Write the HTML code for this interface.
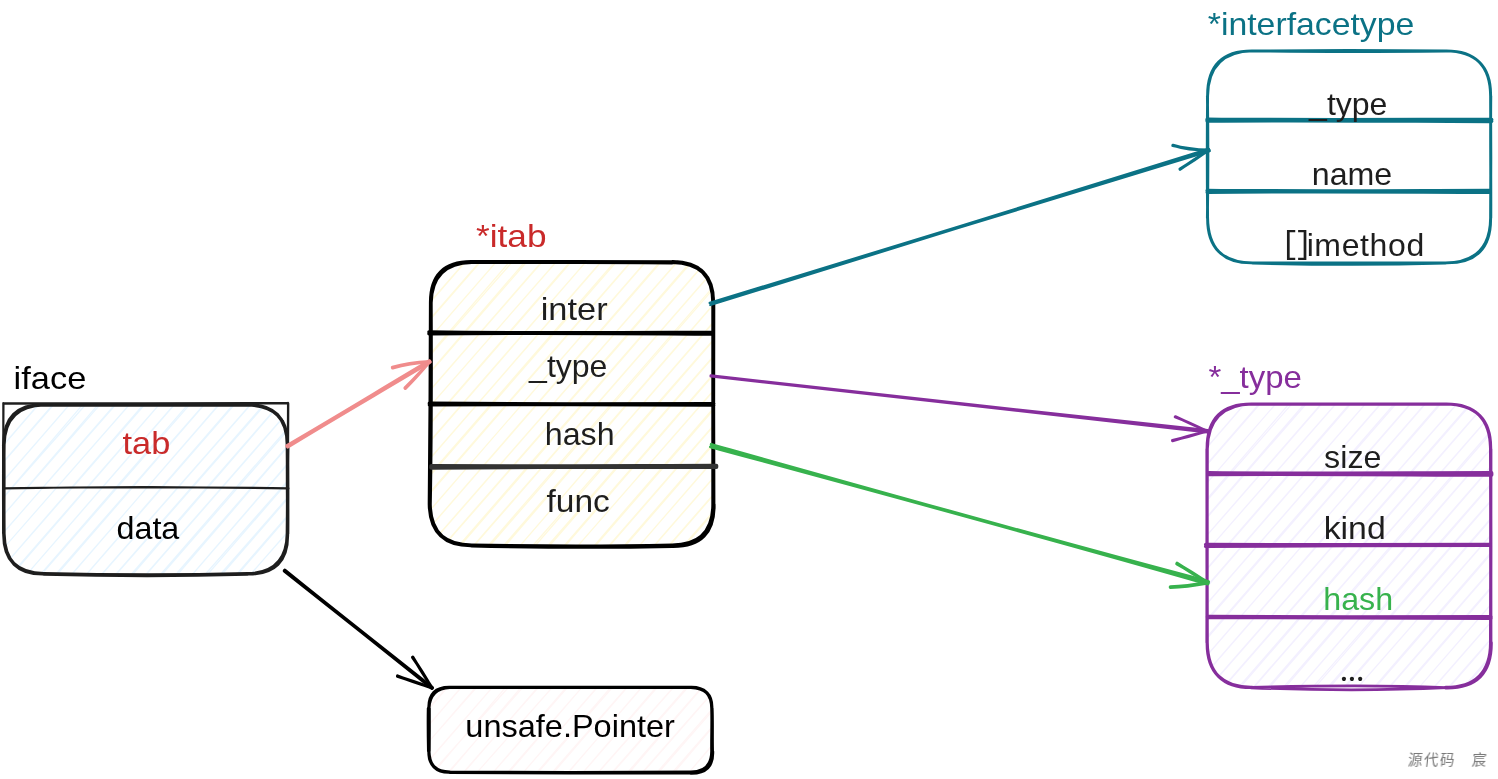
<!DOCTYPE html>
<html lang="zh">
<head>
<meta charset="utf-8">
<title>iface</title>
<style>
html,body{margin:0;padding:0;background:#fff;}
body{width:1498px;height:779px;overflow:hidden;position:relative;}
svg{display:block;position:absolute;left:0;top:0;will-change:transform;}
svg text{font-family:"Liberation Sans", "Noto Sans CJK SC", sans-serif;}
.wm{will-change:transform;position:absolute;left:1407px;top:750px;font:14.5px/20px "Liberation Sans", "Noto Sans CJK SC", sans-serif;letter-spacing:1.5px;color:#787878;white-space:pre;transform:skewX(-6deg);transform-origin:0 100%;}
</style>
</head>
<body>
<svg width="1498" height="779" viewBox="0 0 1498 779">
<defs>
<clipPath id="c1"><path d="M43.9 404.8L247.4 404.8Q287.4 404.8 287.4 444.8L287.4 533.8Q287.4 573.8 247.4 573.8L43.9 573.8Q3.9 573.8 3.9 533.8L3.9 444.8Q3.9 404.8 43.9 404.8Z"/></clipPath>
<clipPath id="c2"><path d="M471.8 262L672.2 262Q713.2 262 713.2 303L713.2 504.3Q713.2 545.3 672.2 545.3L471.8 545.3Q430.8 545.3 430.8 504.3L430.8 303Q430.8 262 471.8 262Z"/></clipPath>
<clipPath id="c3"><path d="M1252.2 404L1445.6 404Q1490.6 404 1490.6 449L1490.6 642.4Q1490.6 687.4 1445.6 687.4L1252.2 687.4Q1207.2 687.4 1207.2 642.4L1207.2 449Q1207.2 404 1252.2 404Z"/></clipPath>
<clipPath id="c4"><path d="M449.9 687.3L690.8 687.3Q711.8 687.3 711.8 708.3L711.8 751.2Q711.8 772.2 690.8 772.2L449.9 772.2Q428.9 772.2 428.9 751.2L428.9 708.3Q428.9 687.3 449.9 687.3Z"/></clipPath>
</defs>
<g>
<path clip-path="url(#c1)" d="M-167.7 573.3L-20.1 405.6M-167.9 574.1L-21.5 404.3M-153.3 574.1L-6.5 405.6M-153.7 573.2L-6.7 405.3M-138.1 573.7L8.7 405M-138.1 573.3L8.9 404.4M-123.6 574.4L24.4 405.1M-122.2 573.6L23.8 404.7M-108.1 574.1L38.1 404.7M-107.8 573.5L38.2 405.2M-93.8 573.9L53.4 404M-93.5 573L53.4 405.1M-77.5 573.6L69.3 404.8M-77.9 574.5L68.7 405.5M-62.5 574.1L83.1 404.1M-63.7 573.5L84.8 405.5M-47.3 573.1L99.4 405.3M-47.3 574.3L98.4 404.2M-32.4 574.2L114.7 404.7M-32.2 573.2L114.9 405.5M-18.2 573L129.1 405.1M-18.1 573L128.6 405.4M-3.6 574.6L143.6 404.3M-3.6 574.7L144.8 404.5M11.4 574.1L159.7 403.9M12.4 574.4L159 404.9M27.7 573.3L173.6 405.1M27.2 573.9L173.7 405.6M41.7 574.1L189.7 404.6M41.3 573.3L188.2 404.2M56.4 573.5L203.8 404.7M57.4 574.1L204.4 404.6M72.4 573.9L218.4 404.9M71.8 574.1L219.5 404.3M87 573.7L233.7 404M86.3 574.7L234.5 404.7M102.4 573.4L249.4 405.6M102.6 573.7L249.9 405.6M116.3 573.6L263.9 404.4M117.3 573.2L264.5 405.4M131.3 574.1L278.6 405M132.5 574.7L279.6 404.5M147.5 573.2L294.4 404.7M146.7 573.3L293.5 405.3M161.4 573.3L308.5 404.2M162.5 574L309.3 405.5M177 573L323.5 404.8M177.5 574.6L324.1 404.3M192.3 574.6L338.7 405.6M192.8 573.9L339 404.1M206.4 573L354.2 405.2M208 574L354.9 404.6M221.5 573L368.6 404.9M223 573.4L368.6 405.2M236.9 573.9L383.4 405.4M237.9 574.3L384.8 404.5M251.3 573.4L399.7 404.7M251.6 573.2L398.4 404.7M267.9 574.5L414.5 405.3M266.6 574.3L413.5 404.8M281.3 574.5L428.4 405M282.4 574.1L429.4 404.6" fill="none" stroke="#e7f5ff" stroke-width="1.25"/>
<path d="M43.9 404.8C111.1 405 180.2 404.8 247.4 404.8M43.9 405.1C111.1 405.2 180.2 404.9 247.4 405.1M43.9 573.8C111.1 575.4 180.2 575.6 247.4 573.8M43.9 574.1C111.1 575.9 180.2 576 247.4 574.1M3.9 444.8C3.6 474.2 3.7 504.4 3.9 533.8M3.7 444.8C4.1 474.2 3.6 504.4 3.8 533.8M287.4 444.8C287.7 474.2 287.8 504.4 287.4 533.8M287.7 444.8C287.2 474.2 287.9 504.4 287.6 533.8M3.9 444.8Q3.5 404.4 43.9 404.8M3.9 444.8Q4.6 405.5 43.9 404.8M247.4 404.8Q287 404.4 287.4 444.8M247.4 404.8Q288.1 405.5 287.4 444.8M287.4 533.8Q287 573.4 247.4 573.8M287.4 533.8Q288.1 574.5 247.4 573.8M43.9 573.8Q3.5 573.4 3.9 533.8M43.9 573.8Q4.6 574.5 3.9 533.8" fill="none" stroke="#1e1e1e" stroke-width="3.5" stroke-linecap="round" stroke-linejoin="round"/>
<path d="M3.4 403.2C97.3 403.4 194.1 403.1 288 403.1M3.2 403.6C97.2 403.3 194.2 403.8 288.2 403.4M288 402.8C287.8 431 287.8 460.2 288 488.4M288.3 403.4C288.3 431.3 287.9 460.1 287.8 488M3.4 488.4C97.4 486.8 194.2 487 288.2 488.4M3.2 488.4C97.3 487.1 194.3 486.8 288.4 488.4M3.3 403C3.5 431.2 3.1 460.4 3.3 488.6M3.5 403.4C3.2 431.4 3.3 460.2 3.1 488.2" fill="none" stroke="#1e1e1e" stroke-width="2.1" stroke-linecap="round" stroke-linejoin="round"/>
<path clip-path="url(#c2)" d="M159.7 544.8L406.7 262.8M159.5 545.6L405.3 261.5M174.2 545.6L420.3 262.8M173.8 544.7L420.1 262.5M189.3 545.2L435.5 262.2M189.4 544.8L435.7 261.6M203.8 545.9L451.1 262.3M205.2 545.1L450.6 261.9M219.4 545.6L464.9 261.9M219.6 545L465 262.4M233.7 545.4L480.2 261.2M234 544.5L480.2 262.3M250 545.1L496.1 262M249.5 546L495.5 262.7M264.9 545.6L509.9 261.3M263.7 545L511.6 262.7M280.2 544.6L526.2 262.5M280.1 545.8L525.2 261.4M295.1 545.7L541.5 261.9M295.3 544.7L541.6 262.7M309.3 544.5L555.9 262.3M309.3 544.5L555.4 262.6M323.8 546.1L570.4 261.5M323.9 546.2L571.5 261.7M338.8 545.6L586.5 261.1M339.8 545.9L585.7 262.1M355.1 544.8L600.4 262.3M354.6 545.4L600.5 262.8M369.2 545.6L616.5 261.8M368.7 544.8L615 261.4M383.9 545L630.6 261.9M384.8 545.6L631.2 261.8M399.8 545.4L645.1 262.1M399.2 545.6L646.2 261.5M414.4 545.2L660.5 261.2M413.7 546.2L661.2 261.9M429.8 544.9L676.2 262.8M430 545.2L676.7 262.8M443.8 545.1L690.7 261.6M444.8 544.7L691.3 262.6M458.8 545.6L705.4 262.2M459.9 546.2L706.4 261.7M475 544.7L721.2 261.9M474.1 544.8L720.3 262.5M488.8 544.8L735.3 261.4M490 545.5L736.1 262.7M504.5 544.5L750.3 262M504.9 546.1L750.8 261.5M519.7 546.1L765.5 262.8M520.3 545.4L765.8 261.3M533.8 544.5L781 262.4M535.4 545.5L781.7 261.8M548.9 544.5L795.4 262.1M550.4 544.9L795.3 262.4M564.3 545.4L810.2 262.6M565.3 545.8L811.6 261.7M578.7 544.9L826.5 261.9M579 544.7L825.2 261.9M595.3 546L841.3 262.5M594 545.8L840.3 262M608.7 546L855.1 262.2M609.8 545.6L856.1 261.8M625.1 546.1L871 262.9M625.2 544.5L871.1 261.3M639.8 545.1L886.5 261.2M640.4 544.5L885 261.1M653.9 546.2L901.4 262.8M654 545.6L901.3 262.4M669.1 546.1L916.2 262.3M669.2 545.1L916.3 262M684.5 546.1L930.7 262.6M683.7 545.4L931.2 261.1M699.9 544.9L946 262.2M698.9 546.1L945.4 261.3M714.4 544.5L960.1 262.5M713.8 545.4L961.5 261.9" fill="none" stroke="#fff9db" stroke-width="1.25"/>
<path d="M471.8 262C537.9 261.7 606.1 262.2 672.2 262.2M471.8 262.2C537.9 262.3 606.1 261.7 672.2 262.5M471.8 545.3C537.9 546.5 606.1 546.7 672.2 545.3M471.8 545.6C537.9 547.1 606.1 547.5 672.2 546.1M430.8 303C430.5 369.4 430.4 437.9 429.6 504.3M430.8 303C431.1 369.4 431.1 437.9 429.9 504.3M713.2 303C713.4 369.4 713 437.9 713.2 504.3M713.4 303C713 369.4 713.4 437.9 713.5 504.3M430.8 303Q430.4 261.6 471.8 262M430.8 303Q431.5 262.7 471.8 262M672.2 262Q712.8 261.6 713.2 303M672.2 262Q713.9 262.7 713.2 303M713.2 504.3Q713.2 545.3 672.2 545.3M713.7 504.3Q714.6 546.7 672.2 546.1M471.8 545.3Q430.2 545.3 429.6 504.3M471.8 545.3Q430.5 545.8 429.9 504.3" fill="none" stroke="#000000" stroke-width="3.8" stroke-linecap="round" stroke-linejoin="round"/>
<path d="M429 332C522.6 333.5 619 332.8 712.6 332.5M429 333.8C522.6 332.6 619 333.5 712.6 334" fill="none" stroke="#000000" stroke-width="3.6" stroke-linecap="round" stroke-linejoin="round"/>
<path d="M429.4 403.3C523.2 404.3 619.8 404 713.6 403.8M429.4 404.7C523.2 404 619.8 404.6 713.6 405" fill="none" stroke="#000000" stroke-width="3.6" stroke-linecap="round" stroke-linejoin="round"/>
<path d="M431.4 466.2C525.4 467 622.2 466.1 716.2 466.8M431.4 467.5C525.4 466.1 622.2 467 716.2 465.9" fill="none" stroke="#333333" stroke-width="4.4" stroke-linecap="round" stroke-linejoin="round"/>
<path d="M1252.6 50.9C1316.3 50.6 1381.9 50.3 1445.6 50.9M1252.6 50.9C1316.3 51.8 1381.9 51.7 1445.6 51.1M1252.6 262.9C1316.3 262.7 1381.9 262.9 1445.6 262.9M1252.6 263.1C1316.3 264.7 1381.9 264.9 1445.6 263.1M1207.6 95.9C1207.1 136.2 1207.2 177.6 1207.6 217.9M1207.4 95.9C1208.1 136.2 1208 177.6 1207.4 217.9M1490.6 95.9C1490.9 136.2 1490.9 177.6 1490.6 217.9M1490.8 95.9C1490.3 136.2 1491 177.6 1490.8 217.9M1207.6 95.9Q1207.2 50.5 1252.6 50.9M1207.6 95.9Q1208.3 51.6 1252.6 50.9M1445.6 50.9Q1490.2 50.5 1490.6 95.9M1445.6 50.9Q1491.3 51.6 1490.6 95.9M1490.6 217.9Q1490.2 262.5 1445.6 262.9M1490.6 217.9Q1491.3 263.6 1445.6 262.9M1252.6 262.9Q1207.2 262.5 1207.6 217.9M1252.6 262.9Q1208.3 263.6 1207.6 217.9" fill="none" stroke="#0b7285" stroke-width="2.9" stroke-linecap="round" stroke-linejoin="round"/>
<path d="M1207.4 119.5C1301.1 120.6 1397.7 119.9 1491.4 119.8M1207.4 120.7C1301.1 119.8 1397.7 120.8 1491.4 121.1" fill="none" stroke="#0b7285" stroke-width="4.2" stroke-linecap="round" stroke-linejoin="round"/>
<path d="M1207.4 190.7C1300.5 191.7 1396.3 191 1489.4 190.8M1207.4 191.9C1300.5 191 1396.3 191.7 1489.4 191.9" fill="none" stroke="#0b7285" stroke-width="4.0" stroke-linecap="round" stroke-linejoin="round"/>
<path clip-path="url(#c3)" d="M939.2 686.9L1186.2 404.8M939 687.7L1184.9 403.5M953.6 687.7L1199.9 404.8M953.2 686.8L1199.6 404.5M968.8 687.3L1215.1 404.2M968.8 686.9L1215.2 403.6M983.3 688L1230.7 404.3M984.7 687.2L1230.2 403.9M998.8 687.7L1244.5 403.9M999.1 687.1L1244.5 404.4M1013.1 687.5L1259.7 403.2M1013.4 686.6L1259.7 404.3M1029.4 687.2L1275.6 404M1029 688.1L1275 404.7M1044.4 687.7L1289.5 403.3M1043.2 687.1L1291.2 404.7M1059.6 686.7L1305.7 404.5M1059.6 687.9L1304.7 403.4M1074.5 687.8L1321.1 403.9M1074.7 686.8L1321.2 404.7M1088.7 686.6L1335.5 404.3M1088.7 686.6L1335 404.6M1103.3 688.2L1349.9 403.5M1103.3 688.3L1351.1 403.7M1118.3 687.7L1366.1 403.1M1119.3 688L1365.3 404.1M1134.6 686.9L1380 404.3M1134.1 687.5L1380.1 404.8M1148.6 687.7L1396.1 403.8M1148.2 686.9L1394.6 403.4M1163.3 687.1L1410.1 403.9M1164.3 687.7L1410.7 403.8M1179.3 687.5L1424.7 404.1M1178.7 687.7L1425.8 403.5M1193.9 687.3L1440 403.2M1193.2 688.3L1440.8 403.9M1209.3 687L1455.8 404.8M1209.5 687.3L1456.2 404.8M1223.2 687.2L1470.3 403.6M1224.2 686.8L1470.8 404.6M1238.2 687.7L1485 404.2M1239.4 688.3L1485.9 403.7M1254.4 686.8L1500.8 403.9M1253.6 686.9L1499.9 404.5M1268.3 686.9L1514.8 403.4M1269.4 687.6L1515.7 404.7M1283.9 686.6L1529.8 404M1284.4 688.2L1530.4 403.5M1299.2 688.2L1545.1 404.8M1299.7 687.5L1545.3 403.3M1313.3 686.6L1560.6 404.4M1314.9 687.6L1561.3 403.8M1328.4 686.6L1575 404.1M1329.9 687L1574.9 404.4M1343.8 687.5L1589.7 404.6M1344.8 687.9L1591.2 403.7M1358.2 687L1606.1 403.9M1358.5 686.8L1604.8 403.9M1374.8 688.1L1620.8 404.5M1373.5 687.9L1619.9 404M1388.2 688.1L1634.7 404.2M1389.3 687.7L1635.7 403.8M1404.5 688.2L1650.6 404.9M1404.6 686.6L1650.7 403.3M1419.3 687.2L1666 403.2M1419.8 686.6L1664.6 403.1M1433.3 688.3L1681 404.8M1433.5 687.7L1680.9 404.4M1448.6 688.2L1695.8 404.3M1448.6 687.2L1695.8 404M1464 688.2L1710.2 404.6M1463.2 687.5L1710.8 403.1M1479.4 687L1725.6 404.2M1478.4 688.2L1724.9 403.3" fill="none" stroke="#f3f0ff" stroke-width="1.25"/>
<path d="M1252.2 404C1316 404.2 1381.8 403.8 1445.6 404M1252.2 404.2C1316 403.8 1381.8 404.3 1445.6 404.2M1207.2 449C1206.9 512.8 1207 578.6 1207.2 642.4M1207 449C1207.4 512.8 1206.9 578.6 1207 642.4M1490.6 449C1490.9 512.8 1490.9 578.6 1490.6 642.4M1490.8 449C1490.4 512.8 1491 578.6 1490.8 642.4M1207.2 449Q1206.8 403.6 1252.2 404M1207.2 449Q1207.9 404.7 1252.2 404M1445.6 404Q1490.2 403.6 1490.6 449M1445.6 404Q1491.3 404.7 1490.6 449M1490.6 642.4Q1490.6 687.4 1445.6 687.4M1491.2 642.4Q1491.8 688.6 1445.6 687.8M1252.2 687.4Q1206.8 687 1207.2 642.4M1252.2 687.4Q1207.9 688.1 1207.2 642.4" fill="none" stroke="#862e9c" stroke-width="3.2" stroke-linecap="round" stroke-linejoin="round"/>
<path d="M1251 687.5C1315.5 685.7 1382 685.1 1446.5 687.6M1251 687.8C1315.5 690.3 1382 690.7 1446.5 687.7" fill="none" stroke="#862e9c" stroke-width="2.8" stroke-linecap="round" stroke-linejoin="round"/>
<path d="M1208.6 473.1C1301.9 474.1 1398.1 473.3 1491.4 473.2M1208.6 474.1C1301.9 473.4 1398.1 474.4 1491.4 474.7" fill="none" stroke="#862e9c" stroke-width="4.2" stroke-linecap="round" stroke-linejoin="round"/>
<path d="M1205.8 544.7C1299.5 545.5 1396.1 544.7 1489.8 544.6M1205.8 546.2C1299.5 545 1396.1 545.3 1489.8 545.1" fill="none" stroke="#862e9c" stroke-width="3.8" stroke-linecap="round" stroke-linejoin="round"/>
<path d="M1207.8 616.7C1301.1 617.5 1397.3 617 1490.6 617.1M1207.8 617.3C1301.1 617 1397.3 617.7 1490.6 618" fill="none" stroke="#862e9c" stroke-width="4.0" stroke-linecap="round" stroke-linejoin="round"/>
<path clip-path="url(#c4)" d="M328.5 771.7L403 688.1M328.3 772.5L401.6 686.8M342.9 772.5L416.6 688.1M342.5 771.6L416.4 687.8M358.1 772.1L431.8 687.5M358.1 771.7L432 686.9M372.6 772.8L447.4 687.6M374 772L446.9 687.2M388.1 772.5L461.2 687.2M388.4 771.9L461.3 687.7M402.4 772.3L476.5 686.5M402.7 771.4L476.5 687.6M418.7 772L492.4 687.3M418.3 772.9L491.8 688M433.7 772.5L506.2 686.6M432.5 771.9L507.9 688M448.9 771.5L522.5 687.8M448.9 772.7L521.5 686.7M463.8 772.6L537.8 687.2M464 771.6L537.9 688M478 771.4L552.2 687.6M478 771.4L551.7 687.9M492.6 773L566.7 686.8M492.6 773.1L567.8 687M507.6 772.5L582.8 686.4M508.6 772.8L582 687.4M523.9 771.7L596.7 687.6M523.4 772.3L596.8 688.1M537.9 772.5L612.8 687.1M537.5 771.7L611.3 686.7M552.6 771.9L626.9 687.2M553.6 772.5L627.5 687.1M568.6 772.3L641.4 687.4M568 772.5L642.5 686.8M583.2 772.1L656.8 686.5M582.5 773.1L657.6 687.2M598.6 771.8L672.5 688.1M598.8 772.1L673 688.1M612.5 772L687 686.9M613.5 771.6L687.6 687.9M627.5 772.5L701.7 687.5M628.7 773.1L702.7 687M643.7 771.6L717.5 687.2M642.9 771.7L716.6 687.8M657.6 771.7L731.6 686.7M658.7 772.4L732.4 688M673.2 771.4L746.6 687.3M673.7 773L747.1 686.8M688.5 773L761.8 688.1M689 772.3L762.1 686.6M702.6 771.4L777.3 687.7M704.2 772.4L778 687.1" fill="none" stroke="#fff5f5" stroke-width="1.25"/>
<path d="M449.9 687.3C529.4 687.5 611.3 687.1 690.8 687.3M449.9 687.5C529.4 687.2 611.3 687.5 690.8 687.4M449.9 772.2C529.4 772.7 611.3 772.5 690.8 772.2M449.9 772.4C529.4 773 611.3 773.1 690.8 772.8M428.4 708.3C428.1 722.5 428.3 737 428.6 751.2M429.2 708.3C429.3 722.5 429.2 737 429.1 751.2M711.8 708.3C712.3 722.5 711.6 737 711.8 751.2M712 708.3C712.6 722.5 712 737 712.4 751.2M428.9 708.3Q428.5 686.9 449.9 687.3M428.9 708.3Q429.6 688 449.9 687.3M690.8 687.3Q711.4 686.9 711.8 708.3M690.8 687.3Q712.5 688 711.8 708.3M711.8 751.2Q711.8 772.2 690.8 772.2M712.6 751.2Q713.6 773.6 690.8 773.2M449.9 772.2Q428.5 771.8 428.9 751.2M449.9 772.2Q429.6 772.9 428.9 751.2" fill="none" stroke="#000000" stroke-width="3.2" stroke-linecap="round" stroke-linejoin="round"/>
<path d="M287.2 445.9C334.4 418.5 382.4 389.1 429.4 361.3M287.7 446.6C334.2 418.1 383 390 429.8 361.9" fill="none" stroke="#f08c8c" stroke-width="3.9" stroke-linecap="round" stroke-linejoin="round"/>
<path d="M392.5 367.4C404.5 363.9 417.2 362.3 429.6 361.6M392.6 367.8C404.6 364.3 417.2 362.5 429.6 361.9M405.3 388.2C413.8 379.8 421.9 370.6 429.6 361.6M405.1 388C413.5 379.6 422 370.8 429.5 361.5" fill="none" stroke="#f08c8c" stroke-width="3.4" stroke-linecap="round" stroke-linejoin="round"/>
<path d="M284.8 570.4C333.1 609.6 383.7 649 432.3 687.8M284.4 570.8C333.4 609.2 383.3 649.5 432 688.2" fill="none" stroke="#000000" stroke-width="3.4" stroke-linecap="round" stroke-linejoin="round"/>
<path d="M412.8 657.1C418.9 667.5 425.5 678 432.2 688M412.5 657.3C419.5 667.1 426 677.7 431.9 688.2M397.4 676.2C409 679.8 420.8 683.8 432.2 688M397.5 675.8C408.8 680.4 420.7 684.3 432.3 687.7" fill="none" stroke="#000000" stroke-width="3.0" stroke-linecap="round" stroke-linejoin="round"/>
<path d="M1100 183.7C1135.8 172.6 1172.8 161.3 1208.6 150.2" fill="none" stroke="#0b7285" stroke-width="2.6" stroke-linecap="round" stroke-linejoin="round"/>
<path d="M709.7 302.9C874.5 252.3 1044.5 200.9 1208.8 148.9M710.3 305C875 253.9 1044.5 200.8 1209.6 151.2" fill="none" stroke="#0b7285" stroke-width="2.35" stroke-linecap="round" stroke-linejoin="round"/>
<path d="M1172.9 145.2C1184.6 149 1197 150 1209.2 150M1172.8 145.6C1184.7 148.4 1197.1 149.6 1209.2 150.3M1180.1 169.4C1189.5 162.7 1199.4 156.2 1209.2 150M1179.9 169.1C1189.9 163.2 1199.7 156.6 1209 149.8" fill="none" stroke="#0b7285" stroke-width="3.0" stroke-linecap="round" stroke-linejoin="round"/>
<path d="M710.8 375.6C874.7 394.4 1043.7 412.4 1207.7 430.4M710.8 376.3C874.7 394.1 1043.5 413.9 1207.5 432.1" fill="none" stroke="#862e9c" stroke-width="2.6" stroke-linecap="round" stroke-linejoin="round"/>
<path d="M1175.3 416.6C1185.8 421.7 1196.8 426.7 1207.6 431.2M1175.1 417C1186.1 421.1 1197 426.2 1207.5 431.5M1172.5 440.8C1184 437.3 1195.9 434.1 1207.6 431.2M1172.4 440.4C1184.2 437.9 1196.1 434.6 1207.5 430.9" fill="none" stroke="#862e9c" stroke-width="2.8" stroke-linecap="round" stroke-linejoin="round"/>
<path d="M711.2 444.3C875.1 490.4 1043.9 538 1208.6 581.5M710.4 446.9C874.8 491.3 1044.2 537 1207.8 584.1" fill="none" stroke="#37b24d" stroke-width="2.8" stroke-linecap="round" stroke-linejoin="round"/>
<path d="M1177.1 563.4C1187.2 570.1 1197.8 576.7 1208.2 582.8M1176.9 563.7C1187.5 569.5 1198 576.2 1208 583.1M1170.4 587.3C1183 587 1195.8 585.1 1208.2 582.8M1170.4 586.9C1183 586.8 1195.8 584.9 1208.2 582.5" fill="none" stroke="#37b24d" stroke-width="3.4" stroke-linecap="round" stroke-linejoin="round"/>
</g>
<g>
<text transform="translate(13.6 388.8) scale(1.077 1)" font-size="32" fill="#000000">iface</text>
<text transform="translate(122.5 454.4) scale(1.074 1)" font-size="32" fill="#c92a2a">tab</text>
<text transform="translate(116.5 539) scale(1.009 1)" font-size="32" fill="#000000">data</text>
<text transform="translate(476 247.4) scale(1.101 1)" font-size="32" fill="#c92a2a">*itab</text>
<text transform="translate(540.7 319.6) scale(1.075 1)" font-size="32" fill="#1e1e1e">inter</text>
<text transform="translate(529.1 377.4) scale(1.001 1)" font-size="32" fill="#1e1e1e">_type</text>
<text transform="translate(544.8 444.6) scale(1.005 1)" font-size="32" fill="#1e1e1e">hash</text>
<text transform="translate(546.5 512) scale(1.047 1)" font-size="32" fill="#1e1e1e">func</text>
<text transform="translate(1207.8 35) scale(1.056 1)" font-size="32" fill="#0b7285">*interfacetype</text>
<text transform="translate(1309.1 115) scale(1.001 1)" font-size="32" fill="#1e1e1e">_type</text>
<text transform="translate(1311.8 185) scale(1.005 1)" font-size="32" fill="#1e1e1e">name</text>
<text fill="#1e1e1e"><tspan x="1280.8" y="252.7" font-size="31" style="font-family:'Liberation Mono',monospace">[</tspan><tspan x="1294.1" y="252.7" font-size="31" style="font-family:'Liberation Mono',monospace">]</tspan><tspan x="1306.65" y="256" font-size="32" letter-spacing="0.62">imethod</tspan></text>
<text transform="translate(1208.4 388.4) scale(1.030 1)" font-size="32" fill="#862e9c">*_type</text>
<text transform="translate(1324.1 468) scale(1.008 1)" font-size="32" fill="#1e1e1e">size</text>
<text transform="translate(1323.7 539) scale(1.057 1)" font-size="32" fill="#1e1e1e">kind</text>
<text transform="translate(1323.2 609.6) scale(1.008 1)" font-size="32" fill="#37b24d">hash</text>
<text x="1339.4" y="680.6" font-size="35.4" letter-spacing="-0.65" fill="#1e1e1e" style="font-family:'Liberation Serif',serif">...</text>
<text transform="translate(465.3 737) scale(1.016 1)" font-size="32" fill="#000000">unsafe.Pointer</text>
</g>
</svg>
<div class="wm">源代码　宸</div>
</body>
</html>
